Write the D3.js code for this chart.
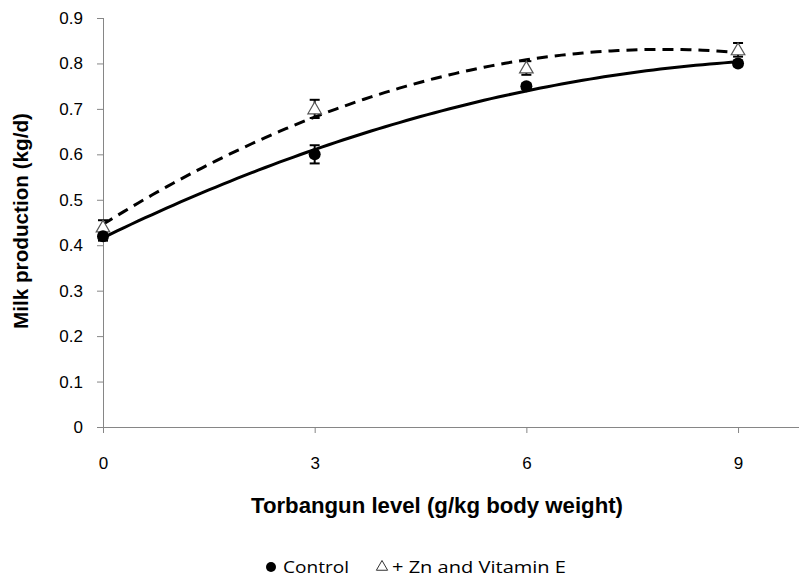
<!DOCTYPE html>
<html>
<head>
<meta charset="utf-8">
<script src="https://cdn.jsdelivr.net/npm/d3@7"></script>
<style>
  body { margin: 0; background: #fff; }
  svg { display: block; }
</style>
</head>
<body>
<svg id="chart" width="799" height="578"></svg>
<script>
// data
const levels = [0, 3, 6, 9]
const control = [0.42, 0.60, 0.75, 0.80]
const controlErr = [0.01, 0.02, 0.006, 0.006]
const znVitE = [0.44, 0.70, 0.79, 0.83]
const znVitEErr = [0.015, 0.02, 0.015, 0.015]
const xTicks = [0, 3, 6, 9]
const yTicks = [0, 0.1, 0.2, 0.3, 0.4, 0.5, 0.6, 0.7, 0.8, 0.9]

const svg = d3.select('#chart')
const AXIS = '#868686'
const FONT = 'Liberation Sans, Arial, sans-serif'

const x = d3.scaleLinear().domain([0, 10]).range([103, 808.6])
const y = d3.scaleLinear().domain([0, 0.9]).range([427, 18])

/* ----------  AXES  ---------- */
const yAxis = svg.append('g')
  .attr('transform', 'translate(103,0)')
  .call(d3.axisLeft(y).tickValues(yTicks).tickSize(6).tickPadding(14)
    .tickFormat(d => d === 0 ? '0' : d3.format('.1f')(d)))
yAxis.select('.domain').attr('stroke', AXIS).attr('d', 'M0.5,18V427')
yAxis.selectAll('.tick line').attr('stroke', AXIS)
yAxis.selectAll('text')
  .style('font-family', FONT)
  .style('font-size', '17px')
  .attr('fill', '#000')

const xAxis = svg.append('g')
  .attr('transform', 'translate(0,427)')
  .call(d3.axisBottom(x).tickValues(xTicks).tickSize(6).tickPadding(24))
xAxis.select('.domain').attr('stroke', AXIS).attr('d', 'M103,0.5H799')
xAxis.selectAll('.tick line').attr('stroke', AXIS)
xAxis.selectAll('text')
  .style('font-family', FONT)
  .style('font-size', '17px')
  .attr('fill', '#000')

/* ----------  TITLES  ---------- */
svg.append('text')
  .attr('transform', 'translate(28,221) rotate(-90)')
  .attr('text-anchor', 'middle')
  .attr('textLength', 216)
  .attr('lengthAdjust', 'spacingAndGlyphs')
  .style('font-family', FONT)
  .style('font-size', '20px')
  .style('font-weight', 'bold')
  .text('Milk production (kg/d)')

svg.append('text')
  .attr('x', 437)
  .attr('y', 513)
  .attr('text-anchor', 'middle')
  .attr('textLength', 372)
  .attr('lengthAdjust', 'spacingAndGlyphs')
  .style('font-family', FONT)
  .style('font-size', '22px')
  .style('font-weight', 'bold')
  .text('Torbangun level (g/kg body weight)')

/* ----------  TREND LINES (least squares quadratic fit of the points)  ---------- */
function quadFit (xs, ys) {
  // normal equations for y = a + b x + c x^2
  const s = [0, 0, 0, 0, 0], t = [0, 0, 0]
  xs.forEach((xi, i) => {
    for (let k = 0; k < 5; k++) s[k] += Math.pow(xi, k)
    for (let k = 0; k < 3; k++) t[k] += Math.pow(xi, k) * ys[i]
  })
  const M = [[s[0], s[1], s[2], t[0]], [s[1], s[2], s[3], t[1]], [s[2], s[3], s[4], t[2]]]
  for (let i = 0; i < 3; i++) {
    for (let j = i + 1; j < 3; j++) {
      const f = M[j][i] / M[i][i]
      for (let k = i; k < 4; k++) M[j][k] -= f * M[i][k]
    }
  }
  const c = [0, 0, 0]
  for (let i = 2; i >= 0; i--) {
    let v = M[i][3]
    for (let k = i + 1; k < 3; k++) v -= M[i][k] * c[k]
    c[i] = v / M[i][i]
  }
  return v => c[0] + c[1] * v + c[2] * v * v
}

const line = d3.line().x(d => x(d[0])).y(d => y(d[1]))
const xs = d3.range(0, 9.001, 0.1)

const fitC = quadFit(levels, control)
const fitZ = quadFit(levels, znVitE)

svg.append('path')
  .attr('d', line(xs.map(v => [v, fitZ(v)])))
  .attr('fill', 'none')
  .attr('stroke', '#000')
  .attr('stroke-width', 3)
  .attr('stroke-dasharray', '11,7')

svg.append('path')
  .attr('d', line(xs.map(v => [v, fitC(v)])))
  .attr('fill', 'none')
  .attr('stroke', '#000')
  .attr('stroke-width', 3)

/* ----------  ERROR BARS  ---------- */
function errorBars (vals, errs) {
  const g = svg.append('g').attr('stroke', '#000').attr('stroke-width', 2)
  levels.forEach((lv, i) => {
    const cx = x(lv)
    const y1 = y(vals[i] + errs[i])
    const y2 = y(vals[i] - errs[i])
    g.append('line').attr('x1', cx).attr('x2', cx).attr('y1', y1).attr('y2', y2)
    g.append('line').attr('x1', cx - 5).attr('x2', cx + 5).attr('y1', y1).attr('y2', y1)
    g.append('line').attr('x1', cx - 5).attr('x2', cx + 5).attr('y1', y2).attr('y2', y2)
  })
}
errorBars(znVitE, znVitEErr)
errorBars(control, controlErr)

/* ----------  MARKERS  ---------- */
const tri = d3.symbol().type(d3.symbolTriangle).size(80)
svg.selectAll('.zn')
  .data(levels)
  .enter().append('path')
  .attr('class', 'zn')
  .attr('d', tri)
  .attr('transform', (d, i) => `translate(${x(d)},${y(znVitE[i]) + 1})`)
  .attr('fill', '#fff')
  .attr('stroke', '#555')
  .attr('stroke-width', 1.2)

svg.selectAll('.ctrl')
  .data(levels)
  .enter().append('circle')
  .attr('class', 'ctrl')
  .attr('cx', d => x(d))
  .attr('cy', (d, i) => y(control[i]))
  .attr('r', 6)
  .attr('fill', '#000')

/* ----------  LEGEND  ---------- */
const legend = svg.append('g')
  .style('font-family', 'Open Sans, Noto Sans, sans-serif')
  .style('font-size', '16px')

legend.append('circle').attr('cx', 271).attr('cy', 567).attr('r', 5).attr('fill', '#000')
legend.append('text').attr('x', 283).attr('y', 573)
  .attr('textLength', 66).attr('lengthAdjust', 'spacingAndGlyphs')
  .text('Control')

legend.append('path')
  .attr('d', d3.symbol().type(d3.symbolTriangle).size(55))
  .attr('transform', 'translate(382,567)')
  .attr('fill', '#fff')
  .attr('stroke', '#333')
legend.append('text').attr('x', 392).attr('y', 573)
  .attr('textLength', 174).attr('lengthAdjust', 'spacingAndGlyphs')
  .text('+ Zn and Vitamin E')
</script>
</body>
</html>
